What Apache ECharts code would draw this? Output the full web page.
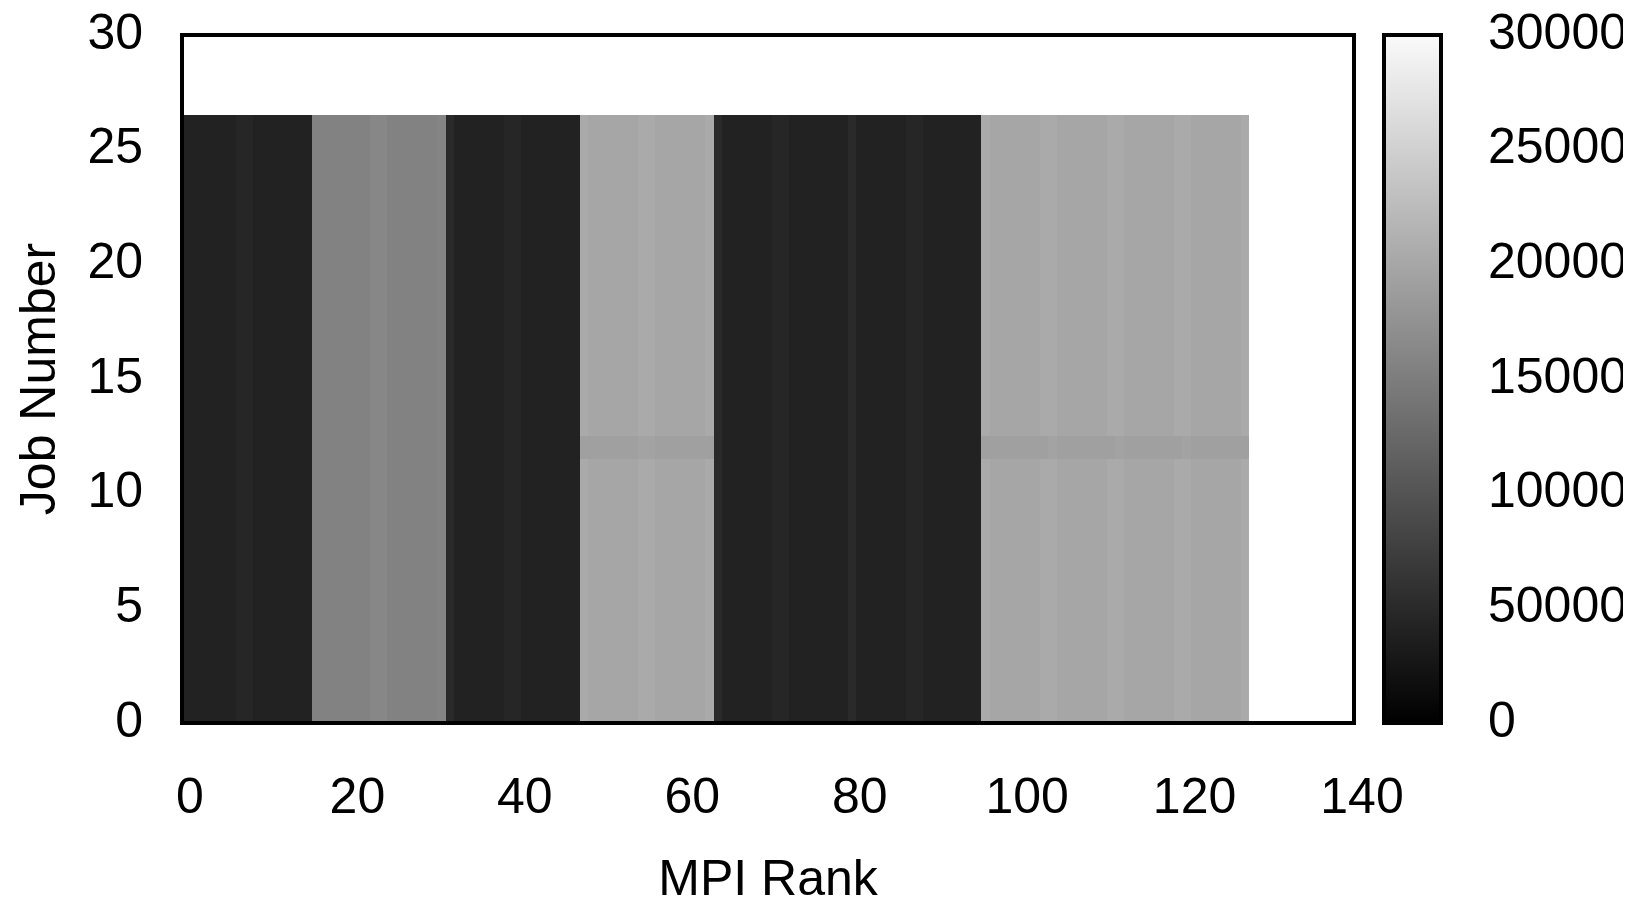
<!DOCTYPE html>
<html>
<head>
<meta charset="utf-8">
<script src="https://cdn.jsdelivr.net/npm/echarts@6/dist/echarts.min.js"></script>
<style>
  html, body { margin: 0; padding: 0; background: #ffffff; }
  #chart { width: 1623px; height: 902px; }
</style>
</head>
<body>
<div id="chart"></div>
<script>
// MPI ranks 0..127 and job numbers 0..26
const ranks = Array.from({ length: 128 }, (_, i) => i);
const jobs = Array.from({ length: 27 }, (_, i) => i);

// Per-rank value, identical for every job
const rankValues = [
  40800, 40800, 40800, 40800, 40800, 40800, 40800, 45600, 45600, 40800, 40800, 40800, 40800, 40800, 40800, 40800,
  156000, 156000, 156000, 156000, 156000, 156000, 156000, 162000, 162000, 156000, 156000, 156000, 156000, 156000, 156000, 160000,
  50400, 40800, 40800, 40800, 40800, 40800, 40800, 45600, 45600, 40800, 40800, 40800, 40800, 40800, 40800, 40800,
  204000, 199200, 199200, 199200, 199200, 199200, 199200, 204000, 204000, 199200, 199200, 199200, 199200, 199200, 199200, 204000,
  50400, 40800, 40800, 40800, 40800, 40800, 40800, 45600, 45600, 40800, 40800, 40800, 40800, 40800, 40800, 40800,
  50400, 40800, 40800, 40800, 40800, 40800, 40800, 45600, 45600, 40800, 40800, 40800, 40800, 40800, 40800, 40800,
  204000, 199200, 199200, 199200, 199200, 199200, 199200, 204000, 204000, 199200, 199200, 199200, 199200, 199200, 199200, 204000,
  204000, 199200, 199200, 199200, 199200, 199200, 199200, 204000, 204000, 199200, 199200, 199200, 199200, 199200, 199200, 204000
];

// Job 12 runs slightly lower on the light rank groups
const job12Values = [
  40800, 40800, 40800, 40800, 40800, 40800, 40800, 45600, 45600, 40800, 40800, 40800, 40800, 40800, 40800, 40800,
  156000, 156000, 156000, 156000, 156000, 156000, 156000, 162000, 162000, 156000, 156000, 156000, 156000, 156000, 156000, 160000,
  50400, 40800, 40800, 40800, 40800, 40800, 40800, 45600, 45600, 40800, 40800, 40800, 40800, 40800, 40800, 40800,
  192000, 192000, 192000, 192000, 192000, 192000, 192000, 196000, 196000, 192000, 192000, 192000, 192000, 192000, 192000, 192000,
  50400, 40800, 40800, 40800, 40800, 40800, 40800, 45600, 45600, 40800, 40800, 40800, 40800, 40800, 40800, 40800,
  50400, 40800, 40800, 40800, 40800, 40800, 40800, 45600, 45600, 40800, 40800, 40800, 40800, 40800, 40800, 40800,
  192000, 192000, 192000, 192000, 192000, 192000, 192000, 192000, 196000, 192000, 192000, 192000, 192000, 192000, 192000, 192000,
  196000, 192000, 192000, 192000, 192000, 192000, 192000, 192000, 196000, 192000, 192000, 192000, 192000, 192000, 192000, 192000
];

const xTicks = { min: 0, max: 140, interval: 20 };
const yTicks = { min: 0, max: 30, interval: 5 };
const cbTicks = { min: 0, max: 300000, interval: 50000 };
const grayStops = ['#000000', '#fafafa'];

const cells = [];
jobs.forEach(function (j) {
  const row = j === 12 ? job12Values : rankValues;
  ranks.forEach(function (r) { cells.push([r, j, row[r]]); });
});

const FONT = '"Liberation Sans", Arial, Helvetica, sans-serif';
const textStyle = { fontFamily: FONT, fontSize: 50, color: '#000000' };

const chart = echarts.init(document.getElementById('chart'), null, { renderer: 'canvas' });

chart.setOption({
  backgroundColor: '#ffffff',
  animation: false,
  textStyle: { fontFamily: FONT },
  grid: [
    { left: 182, top: 35, width: 1172, height: 688, show: true, z: 5,
      outerBoundsMode: 'none', containLabel: false,
      borderColor: '#000000', borderWidth: 4, backgroundColor: 'transparent' },
    { left: 1384, top: 35, width: 57, height: 688, show: true, z: 5,
      outerBoundsMode: 'none', containLabel: false,
      borderColor: '#000000', borderWidth: 4, backgroundColor: 'transparent' }
  ],
  visualMap: {
    type: 'continuous',
    show: false,
    min: cbTicks.min,
    max: cbTicks.max,
    dimension: 2,
    seriesIndex: 0,
    inRange: { color: grayStops }
  },
  xAxis: [
    {
      gridIndex: 0, type: 'value',
      min: xTicks.min, max: xTicks.max, interval: xTicks.interval,
      axisLine: { show: false }, axisTick: { show: false }, splitLine: { show: false },
      axisLabel: Object.assign({ margin: 51, padding: [0, 0, 0, 16] }, textStyle),
      name: 'MPI Rank', nameLocation: 'middle', nameGap: 133,
      nameTextStyle: textStyle
    },
    {
      gridIndex: 1, type: 'category', data: ['scale'], show: false
    }
  ],
  yAxis: [
    {
      gridIndex: 0, type: 'value',
      min: yTicks.min, max: yTicks.max, interval: yTicks.interval,
      axisLine: { show: false }, axisTick: { show: false }, splitLine: { show: false },
      axisLabel: Object.assign({ margin: 39 }, textStyle),
      name: 'Job Number', nameLocation: 'middle', nameGap: 116, nameRotate: 90,
      nameTextStyle: textStyle
    },
    {
      gridIndex: 1, type: 'value', position: 'right',
      min: cbTicks.min, max: cbTicks.max, interval: cbTicks.interval,
      axisLine: { show: false }, axisTick: { show: false }, splitLine: { show: false },
      axisLabel: Object.assign({ margin: 47, formatter: function (v) { return String(v); } }, textStyle)
    }
  ],
  series: [
    {
      type: 'custom',
      coordinateSystem: 'cartesian2d',
      xAxisIndex: 0, yAxisIndex: 0,
      encode: { x: 0, y: 1 },
      silent: true,
      data: cells,
      renderItem: function (params, api) {
        const r = api.value(0), j = api.value(1);
        const a = api.coord([r - 0.5, j + 0.5]);
        const b = api.coord([r + 0.5, j - 0.5]);
        const x0 = Math.round(a[0]), y0 = Math.round(a[1]);
        const x1 = Math.round(b[0]), y1 = Math.round(b[1]);
        const cs = params.coordSys;
        const shape = echarts.graphic.clipRectByRect(
          { x: x0, y: y0, width: x1 - x0, height: y1 - y0 },
          { x: cs.x, y: cs.y, width: cs.width, height: cs.height }
        );
        if (!shape) return null;
        return { type: 'rect', shape: shape, style: { fill: api.visual('color') } };
      }
    },
    {
      type: 'bar',
      xAxisIndex: 1, yAxisIndex: 1,
      silent: true,
      barWidth: '100%',
      data: [cbTicks.max],
      itemStyle: {
        color: new echarts.graphic.LinearGradient(0, 0, 0, 1, [
          { offset: 0, color: grayStops[1] },
          { offset: 1, color: grayStops[0] }
        ])
      }
    }
  ]
});
</script>
</body>
</html>
